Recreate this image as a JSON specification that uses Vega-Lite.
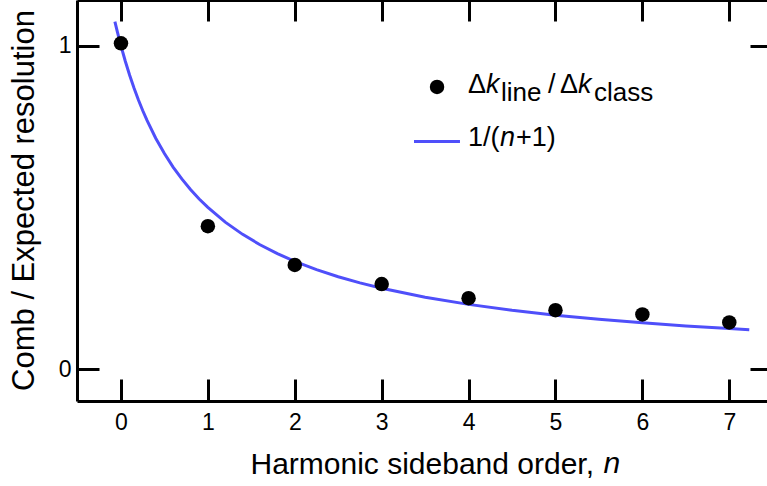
{
  "$schema": "https://vega.github.io/schema/vega-lite/v6.json",
  "width": 690,
  "height": 401,
  "autosize": {"type": "none"},
  "padding": {"left": 77, "top": 0, "right": 0, "bottom": 85},
  "background": "white",
  "config": {
    "view": {"stroke": null},
    "font": "Liberation Sans",
    "text": {"font": "Liberation Sans"},
    "axis": {
      "grid": false,
      "domainColor": "black",
      "domainWidth": 3,
      "tickColor": "black",
      "tickWidth": 3,
      "labelColor": "black",
      "labelFont": "Liberation Sans",
      "labelFontSize": 23,
      "titleFont": "Liberation Sans",
      "titleFontSize": 30,
      "titleFontWeight": "normal",
      "titleColor": "black"
    }
  },
  "datasets": {
    "curve": [
      {"n": -0.07, "v": 1.0753}, {"n": -0.04, "v": 1.0417}, {"n": 0, "v": 1.0},
      {"n": 0.05, "v": 0.9524}, {"n": 0.1, "v": 0.9091}, {"n": 0.15, "v": 0.8696},
      {"n": 0.2, "v": 0.8333}, {"n": 0.25, "v": 0.8}, {"n": 0.3, "v": 0.7692},
      {"n": 0.4, "v": 0.7143}, {"n": 0.5, "v": 0.6667}, {"n": 0.6, "v": 0.625},
      {"n": 0.7, "v": 0.5882}, {"n": 0.8, "v": 0.5556}, {"n": 0.9, "v": 0.5263},
      {"n": 1.0, "v": 0.5}, {"n": 1.2, "v": 0.4545}, {"n": 1.4, "v": 0.4167},
      {"n": 1.6, "v": 0.3846}, {"n": 1.8, "v": 0.3571}, {"n": 2.0, "v": 0.3333},
      {"n": 2.25, "v": 0.3077}, {"n": 2.5, "v": 0.2857}, {"n": 2.75, "v": 0.2667},
      {"n": 3.0, "v": 0.25}, {"n": 3.5, "v": 0.2222}, {"n": 4.0, "v": 0.2},
      {"n": 4.5, "v": 0.1818}, {"n": 5.0, "v": 0.1667}, {"n": 5.5, "v": 0.1538},
      {"n": 6.0, "v": 0.1429}, {"n": 6.5, "v": 0.1333}, {"n": 7.0, "v": 0.125},
      {"n": 7.23, "v": 0.1215}
    ],
    "points": [
      {"n": 0, "ratio": 1.008}, {"n": 1, "ratio": 0.442}, {"n": 2, "ratio": 0.322},
      {"n": 3, "ratio": 0.263}, {"n": 4, "ratio": 0.219}, {"n": 5, "ratio": 0.182},
      {"n": 6, "ratio": 0.169}, {"n": 7, "ratio": 0.144}
    ]
  },
  "layer": [
    {
      "data": {"name": "curve"},
      "mark": {"type": "line", "color": "#4f4ffa", "strokeWidth": 3, "clip": false},
      "encoding": {
        "x": {
          "field": "n", "type": "quantitative",
          "scale": {"domain": [-0.506, 7.434], "nice": false, "zero": false},
          "axis": {
            "orient": "bottom", "values": [0, 1, 2, 3, 4, 5, 6, 7], "format": "d",
            "tickSize": -22, "labelPadding": 32,
            "title": "Harmonic sideband order, ", "titleAlign": "left",
            "titleBaseline": "alphabetic", "titleX": 173, "titleY": 72
          }
        },
        "y": {
          "field": "v", "type": "quantitative",
          "scale": {"domain": [-0.099, 1.142], "nice": false, "zero": false},
          "axis": {
            "orient": "left", "values": [0, 1], "format": "d",
            "tickSize": -22, "labelPadding": 28,
            "title": "Comb / Expected resolution", "titleAngle": -90,
            "titleFontSize": 31,
            "titleAlign": "center", "titleBaseline": "alphabetic",
            "titleX": -44, "titleY": 200
          }
        }
      }
    },
    {
      "data": {"name": "points"},
      "mark": {"type": "circle", "color": "black", "size": 210, "opacity": 1},
      "encoding": {
        "x": {
          "field": "n", "type": "quantitative",
          "axis": {"orient": "top", "values": [0, 1, 2, 3, 4, 5, 6, 7], "labels": false, "tickSize": -21, "title": null}
        },
        "y": {
          "field": "ratio", "type": "quantitative",
          "axis": {"orient": "right", "values": [0, 1], "labels": false, "tickSize": -17, "domain": false, "title": null}
        }
      }
    },
    {
      "data": {"values": [{}]},
      "mark": {"type": "circle", "color": "black", "size": 210, "opacity": 1},
      "encoding": {"x": {"datum": 3.637, "axis": null}, "y": {"datum": 0.873, "axis": null}}
    },
    {
      "data": {"values": [{}]},
      "mark": {"type": "rule", "color": "#4f4ffa", "strokeWidth": 3},
      "encoding": {"x": {"datum": 3.372, "axis": null}, "x2": {"datum": 3.901}, "y": {"datum": 0.704, "axis": null}}
    },
    {
      "data": {"values": [{}]},
      "mark": {"type": "text", "text": "Δ", "align": "left", "baseline": "alphabetic", "fontSize": 27, "color": "black"},
      "encoding": {"x": {"datum": 3.993, "axis": null}, "y": {"datum": 0.854, "axis": null}}
    },
    {
      "data": {"values": [{}]},
      "mark": {"type": "text", "text": "k", "align": "left", "baseline": "alphabetic", "fontSize": 27, "fontStyle": "italic", "color": "black", "dx": 18},
      "encoding": {"x": {"datum": 3.993, "axis": null}, "y": {"datum": 0.854, "axis": null}}
    },
    {
      "data": {"values": [{}]},
      "mark": {"type": "text", "text": "line", "align": "left", "baseline": "alphabetic", "fontSize": 26, "color": "black", "dx": 33, "dy": 8},
      "encoding": {"x": {"datum": 3.993, "axis": null}, "y": {"datum": 0.854, "axis": null}}
    },
    {
      "data": {"values": [{}]},
      "mark": {"type": "text", "text": "/", "align": "left", "baseline": "alphabetic", "fontSize": 27, "color": "black", "dx": 80},
      "encoding": {"x": {"datum": 3.993, "axis": null}, "y": {"datum": 0.854, "axis": null}}
    },
    {
      "data": {"values": [{}]},
      "mark": {"type": "text", "text": "Δ", "align": "left", "baseline": "alphabetic", "fontSize": 27, "color": "black", "dx": 92},
      "encoding": {"x": {"datum": 3.993, "axis": null}, "y": {"datum": 0.854, "axis": null}}
    },
    {
      "data": {"values": [{}]},
      "mark": {"type": "text", "text": "k", "align": "left", "baseline": "alphabetic", "fontSize": 27, "fontStyle": "italic", "color": "black", "dx": 110},
      "encoding": {"x": {"datum": 3.993, "axis": null}, "y": {"datum": 0.854, "axis": null}}
    },
    {
      "data": {"values": [{}]},
      "mark": {"type": "text", "text": "class", "align": "left", "baseline": "alphabetic", "fontSize": 26, "color": "black", "dx": 126, "dy": 8},
      "encoding": {"x": {"datum": 3.993, "axis": null}, "y": {"datum": 0.854, "axis": null}}
    },
    {
      "data": {"values": [{}]},
      "mark": {"type": "text", "text": "1/(", "align": "left", "baseline": "alphabetic", "fontSize": 27, "color": "black"},
      "encoding": {"x": {"datum": 3.993, "axis": null}, "y": {"datum": 0.690, "axis": null}}
    },
    {
      "data": {"values": [{}]},
      "mark": {"type": "text", "text": "n", "align": "left", "baseline": "alphabetic", "fontSize": 27, "fontStyle": "italic", "color": "black", "dx": 32},
      "encoding": {"x": {"datum": 3.993, "axis": null}, "y": {"datum": 0.690, "axis": null}}
    },
    {
      "data": {"values": [{}]},
      "mark": {"type": "text", "text": "+1)", "align": "left", "baseline": "alphabetic", "fontSize": 27, "color": "black", "dx": 48},
      "encoding": {"x": {"datum": 3.993, "axis": null}, "y": {"datum": 0.690, "axis": null}}
    },
    {
      "data": {"values": [{}]},
      "mark": {"type": "text", "text": "n", "align": "left", "baseline": "alphabetic", "fontSize": 30, "fontStyle": "italic", "color": "black"},
      "encoding": {"x": {"datum": 5.553, "axis": null}, "y": {"datum": -0.322, "axis": null}}
    }
  ],
  "resolve": {"axis": {"x": "independent", "y": "independent"}}
}
